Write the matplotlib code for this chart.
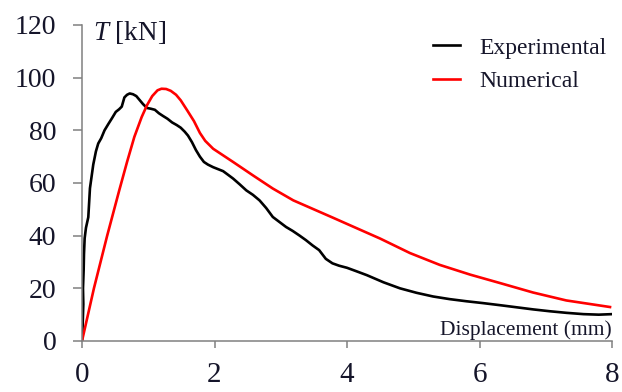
import matplotlib
matplotlib.use("Agg")
import matplotlib.pyplot as plt

# Experimental curve (displacement mm, T kN)
exp_x = [0, 0.01, 0.02, 0.015, 0.025, 0.03, 0.04, 0.06, 0.095, 0.12, 0.17, 0.21, 0.245, 0.29,
         0.34, 0.4, 0.45, 0.51, 0.56, 0.6, 0.64, 0.68, 0.72, 0.77, 0.82, 0.87, 0.92, 0.98,
         1.04, 1.1, 1.16, 1.22, 1.29, 1.36, 1.43, 1.49, 1.55, 1.6, 1.66, 1.72, 1.78, 1.84,
         1.9, 1.98, 2.05, 2.13, 2.2, 2.28, 2.38, 2.48, 2.58, 2.68, 2.78, 2.88, 2.98, 3.08,
         3.18, 3.28, 3.38, 3.48, 3.58, 3.68, 3.78, 3.88, 4.0, 4.13, 4.3, 4.55, 4.8, 5.05,
         5.3, 5.55, 5.8, 6.05, 6.31, 6.56, 6.81, 7.06, 7.31, 7.57, 7.8, 8.0]
exp_y = [0, 6, 14, 20, 27, 33, 39, 43, 47, 58, 67, 72, 75, 77,
         80, 82.5, 84.5, 87, 88, 89, 92.5, 93.5, 94, 93.7, 93, 91.5, 90, 88.5,
         88.2, 87.8, 86.5, 85.5, 84.4, 83, 82, 81, 79.5, 78, 75.5, 72.5, 70, 68,
         67, 66, 65.3, 64.5, 63.2, 61.7, 59.5, 57.2, 55.5, 53.4, 50.5, 47.1, 45.2, 43.3,
         41.8, 40.1, 38.3, 36.3, 34.5, 31.2, 29.5, 28.6, 27.8, 26.6, 25.0, 22.3, 20.0, 18.3,
         16.9, 15.9, 15.1, 14.4, 13.6, 12.8, 12.0, 11.3, 10.7, 10.2, 10.0, 10.2]

# Numerical curve
num_x = [0, 0.18, 0.38, 0.56, 0.68, 0.79, 0.9, 0.98, 1.06, 1.14, 1.2, 1.27, 1.34, 1.42,
         1.49, 1.59, 1.69, 1.78, 1.86, 1.98, 2.13, 2.28, 2.58, 2.88, 3.19, 3.59, 3.79,
         4.05, 4.5, 4.95, 5.4, 5.86, 6.31, 6.81, 7.31, 7.97]
num_y = [0, 20, 40, 57, 68, 77.5, 85, 89.5, 93, 95.2, 95.8, 95.7, 95.0, 93.5,
         91.4, 87.5, 83.5, 79.0, 76.0, 73, 70.5, 68, 62.9, 57.9, 53.4, 49.0, 46.8,
         43.9, 38.9, 33.4, 28.9, 25.2, 22.0, 18.4, 15.4, 12.9]

x_ticks = [0, 2, 4, 6, 8]
y_ticks = [0, 20, 40, 60, 80, 100, 120]
series_labels = ["Experimental", "Numerical"]

plt.rcParams['font.family'] = ['Liberation Serif', 'DejaVu Serif']
plt.rcParams['mathtext.fontset'] = 'custom'
plt.rcParams['mathtext.it'] = 'Liberation Serif:italic'
plt.rcParams['mathtext.rm'] = 'Liberation Serif'

fig = plt.figure(figsize=(6.22, 3.92), dpi=100)
ax = fig.add_axes([82 / 622, 51 / 392, 530 / 622, 316 / 392])

ax.plot(exp_x, exp_y, color='black', lw=1.9, label=series_labels[0])
ax.plot(num_x, num_y, color='#ff0000', lw=1.9, label=series_labels[1])

ax.set_xlim(0, 8)
ax.set_ylim(0, 120)
ax.set_xticks(x_ticks)
ax.set_yticks(y_ticks)
ax.set_xticklabels([str(v) for v in x_ticks])
ax.set_yticklabels([str(v) for v in y_ticks])

for s in ['top', 'right']:
    ax.spines[s].set_visible(False)
for s in ['left', 'bottom']:
    ax.spines[s].set_color('#808080')
    ax.spines[s].set_linewidth(1.1)

ax.tick_params(axis='y', direction='out', length=6.5, width=1.1, color='#808080',
               labelsize=20, pad=12, labelcolor='#15152a')
ax.tick_params(axis='x', direction='out', length=5, width=1.1, color='#808080',
               labelsize=21, pad=10, labelcolor='#15152a')

ax.text(0.021, 0.952, r'$T$ [kN]', transform=ax.transAxes, fontsize=19.5,
        ha='left', va='baseline', color='#15152a')
ax.text(1.0, 0.019, 'Displacement (mm)', transform=ax.transAxes, fontsize=15.5,
        ha='right', va='baseline', color='#15152a')

leg = ax.legend(loc='upper left', bbox_to_anchor=(433 / 622, 1 - 37 / 392),
                bbox_transform=fig.transFigure, frameon=False, fontsize=17,
                handlelength=1.15, handletextpad=0.8, labelspacing=0.5,
                borderpad=0, borderaxespad=0)
for t in leg.get_texts():
    t.set_color('#15152a')

fig.savefig('out.png', dpi=100)
